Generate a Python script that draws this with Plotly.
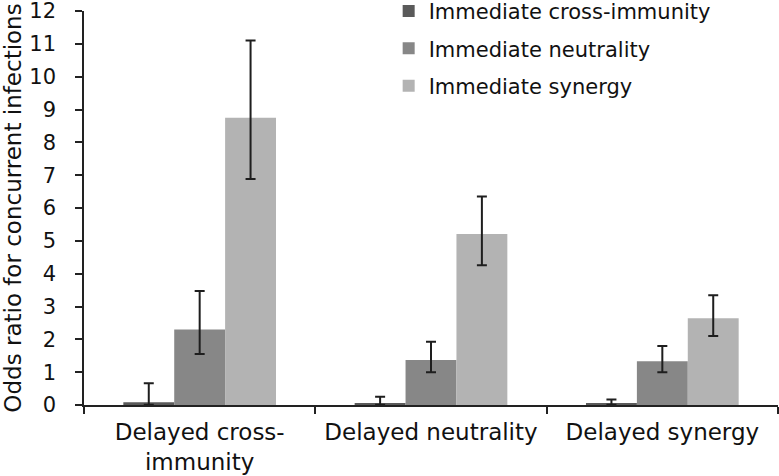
import plotly.graph_objects as go

categories = ["Delayed cross-<br>immunity", "Delayed neutrality", "Delayed synergy"]
series_names = ["Immediate cross-immunity", "Immediate neutrality", "Immediate synergy"]

cross_immunity = [0.08, 0.05, 0.05]
cross_immunity_hi = [0.66, 0.25, 0.17]
cross_immunity_lo = [0.01, 0.01, 0.01]

neutrality = [2.30, 1.37, 1.33]
neutrality_hi = [3.47, 1.93, 1.80]
neutrality_lo = [1.55, 1.00, 1.00]

synergy = [8.75, 5.21, 2.64]
synergy_hi = [11.10, 6.35, 3.34]
synergy_lo = [6.88, 4.26, 2.10]

y_ticks = list(range(0, 13))

colors = ["#5a5a5a", "#878787", "#b3b3b3"]
FONT = "DejaVu Sans"

fig = go.Figure()
for i, (name, vals, hi, lo) in enumerate([
    (series_names[0], cross_immunity, cross_immunity_hi, cross_immunity_lo),
    (series_names[1], neutrality, neutrality_hi, neutrality_lo),
    (series_names[2], synergy, synergy_hi, synergy_lo),
]):
    fig.add_trace(go.Bar(
        x=categories, y=vals, name=name,
        marker=dict(color=colors[i], line=dict(width=0)),
        legendgroup="g%d" % i,
        error_y=dict(type="data", symmetric=False,
                     array=[h - v for h, v in zip(hi, vals)],
                     arrayminus=[v - l for v, l in zip(vals, lo)],
                     color="#1e1e1e", thickness=2, width=5),
    ))

fig.update_layout(
    width=779, height=476,
    margin=dict(l=84, r=1, t=11, b=71, autoexpand=False),
    paper_bgcolor="white", plot_bgcolor="white",
    font=dict(family=FONT, color="#111111", size=22),
    barmode="group", bargap=0.34, bargroupgap=0,
    showlegend=True,
    legend=dict(x=0.439, xanchor="left", y=1.051, yanchor="top",
                font=dict(size=21, family=FONT, color="#111111"),
                traceorder="grouped", tracegroupgap=7,
                bgcolor="rgba(0,0,0,0)", itemwidth=30),
    xaxis=dict(
        type="category", tickson="boundaries", range=[-0.5, 2.5],
        automargin=False, ticklabeloverflow="allow",
        showline=True, linecolor="#222222", linewidth=1.5,
        ticks="outside", ticklen=7, tickcolor="#222222", tickwidth=1.5,
        tickfont=dict(size=23, family=FONT, color="#111111"),
        ticklabelstandoff=6,
        showgrid=False, zeroline=False,
    ),
    yaxis=dict(
        range=[0, 12], tickvals=y_ticks, ticktext=[str(t) for t in y_ticks],
        automargin=False, ticklabeloverflow="allow",
        showline=True, linecolor="#222222", linewidth=1.5,
        ticks="outside", ticklen=7, tickcolor="#222222", tickwidth=1.5,
        tickfont=dict(size=21, family=FONT, color="#111111"),
        ticklabelstandoff=15,
        showgrid=False, zeroline=False,
        title=dict(text="Odds ratio for concurrent infections",
                   font=dict(size=23, family=FONT, color="#111111"),
                   standoff=3),
    ),
)

fig.write_html("out.html",
               config={"displayModeBar": False},
               post_script="document.body.style.margin='0';document.body.style.overflow='hidden';")
